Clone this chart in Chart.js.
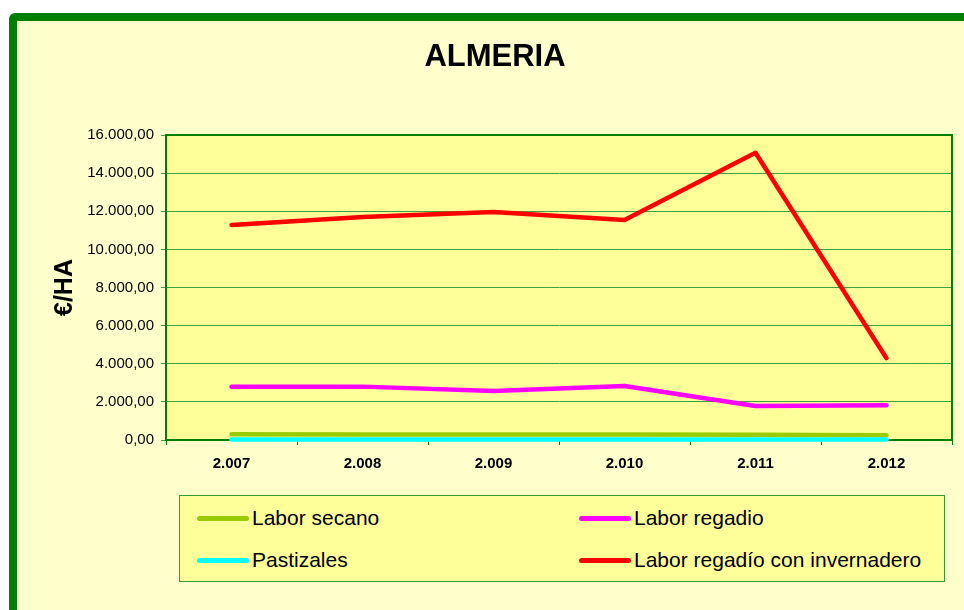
<!DOCTYPE html>
<html>
<head>
<meta charset="utf-8">
<script src="https://cdn.jsdelivr.net/npm/chart.js@4"></script>
<style>
  html, body { margin: 0; padding: 0; background: #fff; overflow: hidden; }
  body { width: 964px; height: 610px; position: relative; font-family: "Liberation Sans", Arial, sans-serif; }
  .frame {
    position: absolute; left: 9px; top: 13px; width: 1000px; height: 700px;
    background: #FFFFCC; border: 8px solid #008000; border-radius: 6px;
  }
  #chart { position: absolute; left: 0; top: 0; }
  .legend {
    position: absolute; left: 179px; top: 495px; width: 764px; height: 85px;
    background: #FFFF99; border: 1px solid #339933;
  }
  .legend .item { position: absolute; font-size: 21px; color: #000; line-height: 21px; white-space: nowrap; }
  .legend .swatch {
    display: inline-block; width: 52px; height: 5px; border-radius: 3px;
    vertical-align: middle; margin-right: 3px; position: relative; top: -1px;
  }
</style>
</head>
<body>
<div class="frame"></div>
<canvas id="chart" width="964" height="610"></canvas>
<div class="legend" id="legend"></div>

<script>
// Chart data
const years = ['2.007', '2.008', '2.009', '2.010', '2.011', '2.012'];
const laborSecano = [300, 290, 290, 290, 280, 250];
const pastizales = [20, 20, 20, 20, 20, 20];
const laborRegadio = [2800, 2800, 2570, 2830, 1780, 1820];
const laborInvernadero = [11280, 11700, 11960, 11540, 15070, 4290];

const seriesNames = ['Labor secano', 'Labor regadio', 'Pastizales', 'Labor regadío con invernadero'];
const seriesColors = ['#99CC00', '#FF00FF', '#00FFFF', '#FF0000'];

// 16.000,00 style numbers
function formatEs(v) {
  const parts = Math.round(v).toString().replace(/\B(?=(\d{3})+(?!\d))/g, '.');
  return parts + ',00';
}

// plot area background and frame
const plotFrame = {
  id: 'plotFrame',
  beforeDraw(chart) {
    const { ctx, chartArea: a } = chart;
    ctx.save();
    ctx.fillStyle = '#FFFF99';
    ctx.fillRect(a.left, a.top, a.right - a.left, a.bottom - a.top);
    ctx.restore();
  },
  beforeDatasetsDraw(chart) {
    const { ctx, chartArea: a } = chart;
    ctx.save();
    ctx.strokeStyle = '#008000';
    ctx.lineWidth = 2;
    ctx.strokeRect(a.left, a.top, a.right - a.left, a.bottom - a.top);
    ctx.restore();
  }
};

const seriesData = [laborSecano, laborRegadio, pastizales, laborInvernadero];
// draw order: pastizales under secano like the reference
const drawOrder = [2, 0, 1, 3];

const datasets = drawOrder.map(i => ({
  label: seriesNames[i],
  data: seriesData[i],
  borderColor: seriesColors[i],
  backgroundColor: seriesColors[i],
  borderWidth: 4.5,
  borderCapStyle: 'round',
  borderJoinStyle: 'round',
  pointRadius: 0,
  tension: 0,
  fill: false,
  clip: false
}));

new Chart(document.getElementById('chart'), {
  type: 'line',
  data: { labels: years, datasets: datasets },
  options: {
    responsive: false,
    animation: false,
    layout: { padding: { left: 38, right: 12, top: 0, bottom: 130 } },
    plugins: {
      legend: { display: false },
      tooltip: { enabled: false },
      title: {
        display: true,
        text: 'ALMERIA',
        color: '#000',
        font: { family: '"Liberation Sans", Arial', size: 31, weight: 'bold' },
        padding: { top: 39, bottom: 58.8 }
      }
    },
    scales: {
      x: {
        offset: true,
        grid: { offset: true, drawOnChartArea: false, tickLength: 5, color: '#008000' },
        border: { color: '#008000', width: 2 },
        ticks: {
          color: '#000',
          padding: 10,
          font: { family: '"Liberation Sans", Arial', size: 15, weight: 'bold' }
        },
        afterFit(scale) { scale.height = 40; }
      },
      y: {
        min: 0,
        max: 16000,
        grid: { color: '#3FA03F', lineWidth: 1, tickLength: 5 },
        border: { color: '#008000', width: 2 },
        ticks: {
          stepSize: 2000,
          color: '#000',
          padding: 7,
          font: { family: '"Liberation Sans", Arial', size: 15 },
          callback: v => formatEs(v)
        },
        title: {
          display: true,
          text: '€/HA',
          color: '#000',
          font: { family: '"Liberation Sans", Arial', size: 25, weight: 'bold' },
          padding: { top: 12, bottom: 0 }
        },
        afterFit(scale) { scale.width = 128; }
      }
    }
  },
  plugins: [plotFrame]
});

// HTML legend, two columns like the reference
const legendBox = document.getElementById('legend');
const legendPos = [[17, 11], [399, 11], [17, 53], [399, 53]];
seriesNames.forEach((name, i) => {
  const item = document.createElement('div');
  item.className = 'item';
  item.style.left = legendPos[i][0] + 'px';
  item.style.top = legendPos[i][1] + 'px';
  const sw = document.createElement('span');
  sw.className = 'swatch';
  sw.style.background = seriesColors[i];
  item.appendChild(sw);
  item.appendChild(document.createTextNode(name));
  legendBox.appendChild(item);
});
</script>
</body>
</html>
